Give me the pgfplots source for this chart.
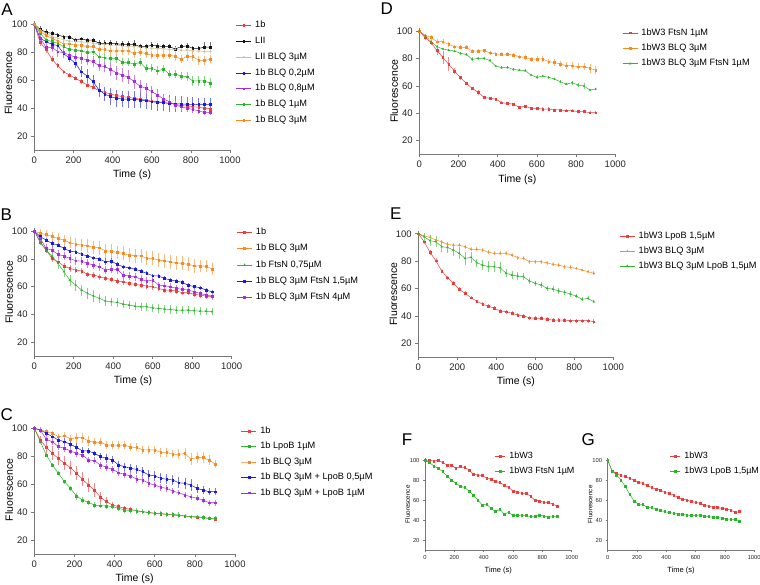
\documentclass[border=0pt]{standalone}
\usepackage{fontspec}
\setmainfont{Liberation Sans}
\usepackage{pgfplots}
\usepackage{pgfplotstable}
\pgfplotsset{compat=1.18}

\definecolor{cred}{RGB}{232,62,62}
\definecolor{cblack}{RGB}{20,20,20}
\definecolor{ctan}{RGB}{205,190,150}
\definecolor{cblue}{RGB}{25,25,225}
\definecolor{cpurple}{RGB}{165,45,225}
\definecolor{cgreen}{RGB}{45,180,45}
\definecolor{corange}{RGB}{245,140,35}
\definecolor{axgray}{RGB}{120,120,120}

% panel A: t, 1b, LII, LII BLQ, BLQ 0.2, BLQ 0.8, BLQ 1, BLQ 3
\pgfplotstableread{
t r re k ke tn tne b be p pe g ge o oe
0 100 0 100 0 100 0 100 0 100 0 100 0 100 0
30 87 2.5 96.4 2.5 96 1.5 90 1.5 90 2 93.5 2 95 2
60 82 2.5 94.3 2 93.5 1.5 87.6 1.5 83.5 3 89 2 92 2
90 75 2 93.5 1.5 91.5 1.5 85.7 1.5 83.5 3 87.6 2 90 2
120 70.4 2 92.4 1.5 90 1.5 84.7 1.5 80.4 4 86.4 2 88 2
150 66 1.5 91 1.5 89 1.5 79 2 79.7 4 84 2 86 2
180 63.7 1.5 91 1.5 88 1.5 75.6 2.5 78 4 82 2 86 2
210 61.3 1.5 88.5 1.5 88 1.5 72 3 76.4 4 81.6 2 85 2
240 59 1.5 89.7 1.5 87.5 1.5 66 4 75.6 4 81 2.5 85 2.5
270 56.6 1.5 88.5 2 87 1.5 63 5 74.5 4 79.7 2.5 84 2.5
300 55 1.5 88.8 1.5 86.5 1.5 59 5 73.3 4 80.4 2.5 84 2.5
330 52.5 1.5 86.4 2 86 1.5 53 5 70.4 4 76.8 3 82 2.5
360 51.3 1.2 86.4 2 85.5 1.5 50 5 69.7 4 76 3 82 3
390 50 1.2 86.4 2 85 1.5 48.2 6 67.8 5 75.6 3 81 3
420 49 1.2 86 2 85 1.5 47 6 65 5 75.6 3 81 3
450 48.2 1.2 85.7 2 84.5 1.5 46.5 6 63.7 5 72.8 3 81 3
480 47.7 1.2 85.7 2 84 1.5 46.3 6 62 5 72.8 3 81 3
510 47 1.2 85.7 3 84 1.5 46.3 6 59 5 71.4 3 79 3
540 46.5 1.2 84 2 83.5 1.5 45.8 6 55.8 4 72.8 3 80 3
570 45.8 1.2 84 2 83 1.5 45.3 6 54.2 4 68.5 3 79 3
600 45 1.2 85 2.5 83 1.5 44.6 6 51.8 4 68.5 3 78 3
630 44.6 1.2 84.5 2 82.5 1.5 44 6 49.4 4 66.8 3 78 3
660 44 1.2 84 2 82.5 1.5 43.9 6 46.5 3 67.8 3 78 3
690 43.4 1.2 84 2 82 1.5 43.4 6 44.6 3 64.4 3 78 3
720 42.7 1.2 82.3 2.5 82 1.5 43 6 42.2 3 64.4 3 77 3
750 41.8 1.2 84 2 81.5 1.5 43 5.5 41 3 63 3 75 3
780 41.5 1.2 84.5 2 81.5 1.5 42.7 5 39.9 2.5 62.5 3 77 3
810 41 1.2 82.8 2 81 1.5 42.7 5 39.1 2.5 59.4 3.5 77 3
840 40.6 1.2 82.6 2 81 1.5 42.5 5 38 2 59.4 3.5 74 3
870 39.9 1.2 83.8 3.5 80.5 1.5 42.5 4.5 36.8 2 59.4 3.5 74 3
900 39.4 1.2 83.5 3.5 80.5 1.5 42.5 4.5 37 2 57.8 3.5 75 3
}\dA

% panel B
\pgfplotstableread{
t r re o oe g ge b be p pe
0 100 0 100 0 100 0 100 0 100 0
30 91.8 2 98.3 3 92.3 2 96 1.5 94.7 2
60 86.3 2 97.6 3 86.3 2 93.5 1.5 87.5 3
90 80.3 2.5 96 3.5 82 3 91 1.5 86.3 3
120 77.9 2.5 94.7 4 76.7 4 90 1.5 83.2 3
150 74.8 2.5 93.5 4 70.7 4 87.5 1.5 82 3
180 73.1 2.5 91.6 4 64.7 4 85.6 1.5 80.3 3
210 71.9 2 90.4 4.5 61 4 85 1.5 78.6 3
240 71.2 2 90 4.5 57.5 4 83.2 1.5 78.4 3
270 68.8 2 89.4 5 55.1 4 82 1.5 76.7 3
300 68.3 2 88.2 5 53.2 4 80.8 1.5 75.5 3
330 67.1 2 88 5 51.5 3.5 79.8 1.5 74.3 3
360 65.9 2 85.6 5 49.6 3.5 77.9 2.5 71.9 3
390 65.2 2 85.6 5 49.1 3 78.4 2 72.6 3
420 64 2 84.6 5 48.6 3 76 2 72.4 3
450 63.5 2 83.9 5 47.4 3 74.3 1.5 68.3 3
480 62.3 2 82.7 5 46.7 3 73.6 1.5 67.6 3
510 61.6 2 82.2 5 45.9 3 72.6 1.5 67.1 3
540 61 2 82.2 5 45.5 3 71.2 1.5 65.2 3
570 60.4 2 80.3 5 45.5 3 69.5 1.5 64 3
600 59.9 2 80.3 5 44.7 3 67.8 1.5 64.7 3
630 58.7 2 79.1 5 44.3 3 67.6 1.5 61 2.5
660 57.5 2 78.6 5 43.8 3 65.9 1.5 60.6 2.5
690 57.5 2 77.9 5 43.5 3 64.7 1.5 59.9 2.5
720 56.8 2 77.2 5 43.1 3 64 1.5 58.7 2.5
750 55.6 2 76.7 5 43.1 3 63 1.5 58 2.5
780 55.6 2 76 5 43.1 3 61 1.5 57.5 2
810 54.4 2 75 5 42.6 3 60 1.5 56.3 2
840 53.9 2 74.8 4.5 42.3 3 59.2 1.5 55.1 2
870 53.2 2 74.8 4.5 42.3 2.5 57.5 1.5 53.9 2
900 52.7 2 72.6 4.5 41.9 2.5 56.3 1.5 53.2 2
}\dB

% panel C
\pgfplotstableread{
t r re g ge o oe b be p pe
0 100 0 100 0 100 0 100 0 100 0
30 91.6 3 90.4 1.5 98.8 2 98.8 2 98.8 2
60 86.4 5 80.9 1.5 97.6 2 96.4 2 92 2.5
90 82 5 73.7 1.5 96.4 2 94 2 90.4 2.5
120 78.5 5 67.8 1.5 94 2 91.6 2 86.9 2.5
150 74.9 5 61.8 1.5 94.7 3 90.4 2.5 85.7 2.5
180 71.8 5 57 2 92.4 3 88.5 3 83.8 2.5
210 67.8 5 51.5 2.5 93.3 3.5 86.4 3 82 2.5
240 63.5 5 48.7 2 93.3 3.5 83.8 2.5 80.9 2.5
270 59.4 5 47 2 90.9 3.5 83.8 2 77.3 2.5
300 55.8 5 45 2 90 3 82 2 76.8 2.5
330 50.6 4 44.6 2 90 3 79.7 2.5 73.7 2.5
360 47.5 3 44.4 2 88 3 78.5 3 72 2.5
390 45 2 43.9 2 88 3 77.3 3 70.6 2.5
420 43.9 2 42.7 2 88 3 73.7 3 68.2 2.5
450 42.7 1.5 41.5 2 88 3 72.5 3 67 2.5
480 42 1.5 41 2 86.4 3 71.3 3 65.9 2.5
510 41 1.5 40.8 2 86.4 3 70.6 3 63.5 3
540 40.3 1.5 40.3 2 84.5 3 69 3 63 3
570 39.8 1.5 39.6 2 84.5 3 66.6 3.5 60.6 2.5
600 39.1 1.5 39.1 2 84.5 3 65.9 3.5 59.4 2.5
630 38.6 1.5 39.1 2 82.8 3 64.2 3.5 57.7 2.5
660 38.4 1.5 38.4 2 82.8 3 63.5 3.5 57 2.5
690 37.9 1.5 38.4 2 81.4 3 63 3.5 55 2
720 37.4 1.5 37.9 2 81.4 3.5 61 4 53.9 2
750 37.2 1.5 37.2 1.5 82 4 60.6 4 52.2 2
780 36.7 1.5 36.7 1.5 78 4 59.4 4 51 2
810 36.2 1.5 36.7 1.5 79 4 57 3 49.9 2
840 36 1.5 36.2 1.5 79 4 55.8 3 48.7 2
870 35.5 1.5 35.5 1.5 77.3 3.5 54.6 2.5 46.7 2
900 35 1.5 35.5 1.5 74.4 3 54.6 2.5 46.7 2
}\dC

% panel D
\pgfplotstableread{
t r re o oe g ge
0 100 0 100 0 100 0
30 95.1 2 96.6 1.5 96.6 1
60 91.5 2 95.4 2 92.2 1
90 85.7 3 92.2 2 88.6 1
120 80.8 5 92.2 2 86.9 1
150 75.7 5 90.3 2 86.1 1
180 70.8 2 88.6 1.5 85.4 1
210 66 1.5 88.1 1.5 83.7 1
240 61.8 1 88.1 1.5 83 1
270 58.2 1 85.4 1.5 79.3 1.5
300 55.3 2 85.4 1.5 80.1 1
330 51.6 1 85.7 1.5 80.1 1
360 50.9 1 84.2 1.5 78.4 1
390 50.4 1 83.2 1.5 74.5 1
420 47.7 1 83.2 1.5 73.3 1
450 47.2 1 83 1.5 73.5 1
480 46.7 1 82.5 1.5 72 1
510 44.3 1 81.3 1.5 71.5 1
540 45.3 1 80.8 2 71.1 1
570 43.6 1 79.3 2 67.9 1
600 43.6 1 79.6 2.5 66.2 1.5
630 43.1 1.5 79.6 2 67.2 1
660 43.1 1.5 77.6 2 66.2 1
690 42.4 1 77.1 2.5 65 1
720 42.4 1 75.9 2.5 63 1
750 41.9 1 74.7 2.5 61.3 1
780 41.9 1 74.7 2.5 62.3 1.5
810 41.2 1 74 2.5 60.6 1.5
840 41.2 1 74 2.5 59.9 2.5
870 40.4 1 72.8 3.5 57 1
900 40.4 1 71.5 3 57.7 1
}\dD

% panel E
\pgfplotstableread{
t r re o oe g ge
0 100 0 100 0 100 0
30 94.2 1.5 98.5 1.5 97.8 3
60 86.4 2 97.3 1.5 94.9 4
90 80.3 2 95.4 1.5 94.2 4
120 72.8 1.5 94.2 1.5 90.5 4
150 67.9 1.5 92.2 1.5 90 4
180 63.8 1.5 91.7 1.5 88.1 4
210 59.4 1.5 91.7 1.5 85.7 4.5
240 56.5 1.5 90.5 1.5 82 5
270 53.3 1 88.6 1.5 82.7 4
300 50.9 1 88.6 1.5 78.8 3
330 48.4 1.5 88.1 1.5 77.1 3.5
360 47.2 1.5 86.4 1.5 75.9 4
390 45.5 1.5 85.7 1.5 75.9 4
420 43.6 1.5 85.7 1.5 75.2 4
450 43.1 1.5 85.7 1.5 71.1 3
480 41.9 1.5 84.4 1.5 69.8 3
510 40.7 1.5 82.5 1.5 69.1 3
540 39.9 1.5 82 1.5 68.6 2.5
570 38.7 1.5 79.6 1.5 65.5 2
600 38.2 1.5 79.6 1.5 63.8 2
630 38.2 1.5 79.6 1.5 62.6 2
660 37.5 1.5 78.8 1.5 60.1 2
690 37 1.5 77.6 1.5 59.6 2
720 37 1.5 77.1 1.5 58.2 2
750 37 1.5 75.9 1.5 57.2 2
780 36.5 1.5 75.4 1.5 56 2
810 36.5 1.5 74.7 1 54.5 1.5
840 36.5 1.5 73.5 1 52.1 1.5
870 36.5 1.5 72.3 1 52.8 1.5
900 35.8 2 71.1 1.5 50.4 1
}\dE

% panel F
\pgfplotstableread{
t r g
0 100 100
30 100 97.7
60 99.3 94.3
90 100 92
120 97.7 88.7
150 95.3 84.3
180 95.3 80.3
210 92 77
240 93.7 74.3
270 92.7 72.7
300 90.3 69.3
330 86 65.3
360 85.3 60.3
390 84.7 55.3
420 82 56
450 81.3 52
480 78.7 48.7
510 77.7 51
540 75.3 46.3
570 72.7 48
600 69.3 44.7
630 68 44.7
660 67 45.3
690 67 44.7
720 63.7 43.7
750 60.3 44.3
780 59.3 45.3
810 58 44.3
840 57.7 43
870 56.3 43.7
900 54 43.7
}\dF

% panel G
\pgfplotstableread{
t r g
0 100 100
30 89.3 89.3
60 87 85.3
90 84.7 80.3
120 83.7 73.7
150 82 66
180 80.3 59.3
210 78 56
240 77 56
270 74.7 52.7
300 72.7 52.7
330 71 51
360 70.3 49.7
390 67.7 48.7
420 67 47.7
450 65.3 47
480 62.7 46.3
510 61.3 46
540 60.3 45.3
570 58.7 44.7
600 58 44.7
630 57 45.3
660 54.7 43.7
690 54.3 43.7
720 53 43
750 52.7 42.7
780 52 42
810 51.3 41.3
840 50.3 41
870 47.7 41
900 48.7 39.3
}\dG

\pgfplotsset{
  panel/.style={
    scale only axis, anchor=south west,
    axis lines=left, axis line style={-, draw=axgray, line width=0.6pt},
    xmin=0, xmax=1000, ymin=10, ymax=102,
    xtick={0,200,...,1000}, ytick={20,40,...,100},
    tick align=outside, major tick length=3pt,
    tick style={axgray, line width=0.6pt},
    /pgf/number format/assume math mode=true,
    /pgf/number format/1000 sep={},
    tick label style={font=\fontsize{9.5}{10}\selectfont, text=black!85},
    label style={font=\fontsize{10.5}{12}\selectfont},
    xlabel={Time (s)}, ylabel={Fluorescence},
    ylabel style={anchor=center},
    clip=false,
    legend cell align=left,
    legend image code/.code={\draw[mark repeat=2,mark phase=2,##1] plot coordinates {(0pt,0pt) (7.5pt,0pt) (15pt,0pt)};},
    legend style={draw=none, fill=none, anchor=north west, inner sep=0pt,
      font=\fontsize{9.2}{10}\selectfont,
      nodes={inner sep=0.6pt, text height=6.5pt, text depth=2pt},
      /tikz/every odd column/.append style={column sep=3pt}},
  },
  small/.style={
    tick label style={font=\fontsize{5.8}{7}\selectfont},
    xlabel style={font=\fontsize{7.5}{8}\selectfont},
    ylabel style={font=\fontsize{6.3}{7}\selectfont},
    major tick length=2pt,
    legend image code/.code={\draw[mark repeat=2,mark phase=2,##1] plot coordinates {(0pt,0pt) (5pt,0pt) (10pt,0pt)};},
    legend style={font=\fontsize{9}{10}\selectfont, row sep=5pt},
  },
  ser/.style={color=#1, mark=square*, mark size=0.9pt, line width=0.5pt,
    mark options={solid},
    error bars/y dir=both, error bars/y explicit, error bars/error mark=none,
    error bars/error bar style={color=#1!60, line width=0.65pt}},
  pl/.style={color=#1, mark=square*, mark size=0.85pt, line width=0.5pt},
}

\begin{document}
\begin{tikzpicture}
\useasboundingbox (0pt,0pt) rectangle (760pt,585pt);

% A
\begin{axis}[panel, at={(34.3pt,435pt)}, width=195.7pt, height=128.5pt,
  ylabel style={at={(axis description cs:-0.133,0.52)}},
  legend style={at={(1.03,1.008)}, row sep=6.1pt}]
\addplot[ser=cred] table[x=t,y=r,y error=re]{\dA};
\addlegendentry{1b}
\addplot[ser=cblack] table[x=t,y=k,y error=ke]{\dA};
\addlegendentry{LII}
\addplot[ser=ctan, mark=triangle*] table[x=t,y=tn,y error=tne]{\dA};
\addlegendentry{LII BLQ 3µM}
\addplot[ser=cblue] table[x=t,y=b,y error=be]{\dA};
\addlegendentry{1b BLQ 0,2µM}
\addplot[ser=cpurple] table[x=t,y=p,y error=pe]{\dA};
\addlegendentry{1b BLQ 0,8µM}
\addplot[ser=cgreen] table[x=t,y=g,y error=ge]{\dA};
\addlegendentry{1b BLQ 1µM}
\addplot[ser=corange] table[x=t,y=o,y error=oe]{\dA};
\addlegendentry{1b BLQ 3µM}
\end{axis}

% B
\begin{axis}[panel, at={(34.3pt,229pt)}, width=197.4pt, height=127.7pt,
  ylabel style={at={(axis description cs:-0.128,0.5)}},
  legend style={at={(1.025,1.009)}, row sep=6.6pt}]
\addplot[ser=cred] table[x=t,y=r,y error=re]{\dB};
\addlegendentry{1b}
\addplot[ser=corange] table[x=t,y=o,y error=oe]{\dB};
\addlegendentry{1b BLQ 3µM}
\addplot[ser=cgreen, mark=triangle*] table[x=t,y=g,y error=ge]{\dB};
\addlegendentry{1b FtsN 0,75µM}
\addplot[ser=cblue] table[x=t,y=b,y error=be]{\dB};
\addlegendentry{1b BLQ 3µM FtsN 1,5µM}
\addplot[ser=cpurple] table[x=t,y=p,y error=pe]{\dB};
\addlegendentry{1b BLQ 3µM FtsN 4µM}
\end{axis}

% C
\begin{axis}[panel, at={(34.3pt,31pt)}, width=200.7pt, height=128.5pt,
  ylabel style={at={(axis description cs:-0.125,0.5)}},
  legend style={at={(1.03,0.995)}, row sep=5.7pt}]
\addplot[ser=cred] table[x=t,y=r,y error=re]{\dC};
\addlegendentry{1b}
\addplot[ser=cgreen] table[x=t,y=g,y error=ge]{\dC};
\addlegendentry{1b LpoB 1µM}
\addplot[ser=corange] table[x=t,y=o,y error=oe]{\dC};
\addlegendentry{1b BLQ 3µM}
\addplot[ser=cblue] table[x=t,y=b,y error=be]{\dC};
\addlegendentry{1b BLQ 3µM + LpoB 0,5µM}
\addplot[ser=cpurple] table[x=t,y=p,y error=pe]{\dC};
\addlegendentry{1b BLQ 3µM + LpoB 1µM}
\end{axis}

% D
\begin{axis}[panel, at={(419.3pt,430.6pt)}, width=196pt, height=126.1pt,
  ylabel style={at={(axis description cs:-0.129,0.5)}},
  legend style={at={(1.035,1.004)}, row sep=5.7pt}]
\addplot[ser=cred] table[x=t,y=r,y error=re]{\dD};
\addlegendentry{1bW3 FtsN 1µM}
\addplot[ser=corange] table[x=t,y=o,y error=oe]{\dD};
\addlegendentry{1bW3 BLQ 3µM}
\addplot[ser=cgreen, mark=triangle*] table[x=t,y=g,y error=ge]{\dD};
\addlegendentry{1bW3 BLQ 3µM FtsN 1µM}
\end{axis}

% E
\begin{axis}[panel, at={(418.3pt,228pt)}, width=195pt, height=126pt,
  ylabel style={at={(axis description cs:-0.128,0.5)}},
  legend style={at={(1.031,0.996)}, row sep=5pt}]
\addplot[ser=cred] table[x=t,y=r,y error=re]{\dE};
\addlegendentry{1bW3 LpoB 1,5µM}
\addplot[ser=corange, mark=triangle*] table[x=t,y=o,y error=oe]{\dE};
\addlegendentry{1bW3 BLQ 3µM}
\addplot[ser=cgreen, mark=triangle*] table[x=t,y=g,y error=ge]{\dE};
\addlegendentry{1bW3 BLQ 3µM LpoB 1,5µM}
\end{axis}

% F
\begin{axis}[panel, small, at={(425pt,34.7pt)}, width=146.7pt, height=92pt,
  ylabel style={at={(axis description cs:-0.118,0.5)}},
  legend style={at={(0.477,1.074)}}]
\addplot[pl=cred] table[x=t,y=r]{\dF};
\addlegendentry{1bW3}
\addplot[pl=cgreen] table[x=t,y=g]{\dF};
\addlegendentry{1bW3 FtsN 1µM}
\end{axis}

% G
\begin{axis}[panel, small, at={(607.7pt,34.7pt)}, width=146.5pt, height=92pt,
  ylabel style={at={(axis description cs:-0.12,0.5)}},
  legend style={at={(0.425,1.074)}}]
\addplot[pl=cred] table[x=t,y=r]{\dG};
\addlegendentry{1bW3}
\addplot[pl=cgreen] table[x=t,y=g]{\dG};
\addlegendentry{1bW3 LpoB 1,5µM}
\end{axis}

% panel letters
\node[font=\fontsize{17}{17}\selectfont] at (7pt,575.8pt) {A};
\node[font=\fontsize{17}{17}\selectfont] at (6.3pt,370pt) {B};
\node[font=\fontsize{17}{17}\selectfont] at (6.7pt,170.2pt) {C};
\node[font=\fontsize{17}{17}\selectfont] at (386.7pt,576.7pt) {D};
\node[font=\fontsize{17}{17}\selectfont] at (395.8pt,371.7pt) {E};
\node[font=\fontsize{17}{17}\selectfont] at (407pt,145pt) {F};
\node[font=\fontsize{17}{17}\selectfont] at (588.3pt,145pt) {G};
\end{tikzpicture}
\end{document}
